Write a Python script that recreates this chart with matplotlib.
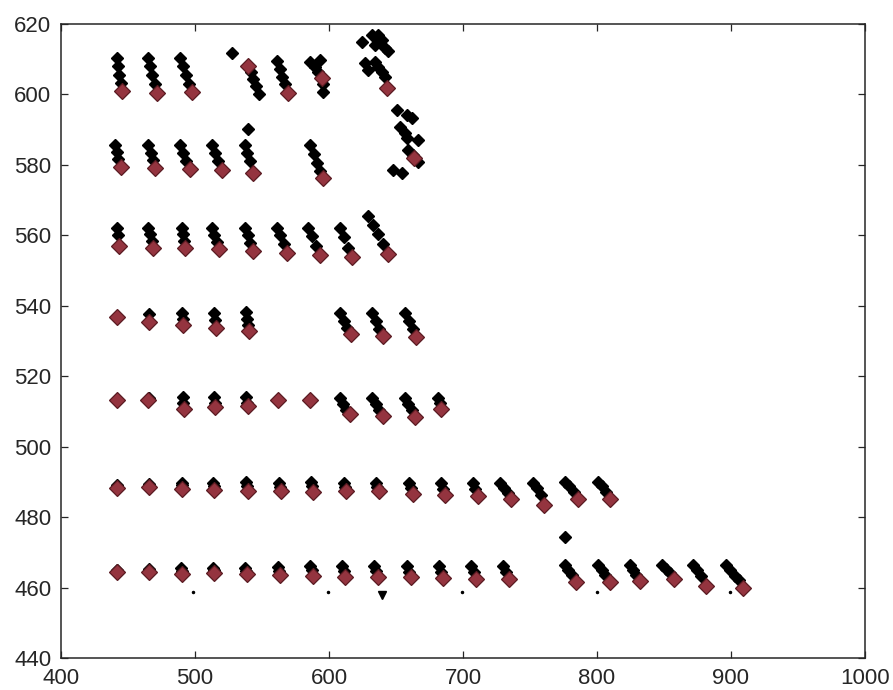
import numpy as np
import matplotlib
matplotlib.use("Agg")
from matplotlib import pyplot as plt

plt.rcParams['font.family'] = ['Liberation Sans', 'DejaVu Sans']

# tracked positions per grid row (black = intermediate, red = final)
row_464_black = [(442, 465.0), (466, 465.3), (489.5, 465.5), (490, 464.8), (513.5, 465.6), (514, 465.0),
                 (537.5, 465.6), (538, 464.8), (562, 465.8), (562.8, 464.8), (586, 466.0), (587, 465.0),
                 (610, 466.0), (611, 464.8), (633.5, 466.0), (635, 464.8), (658, 466.0), (659.5, 464.5),
                 (682, 466.0), (683.5, 464.5), (706, 466.0), (708, 464.5), (730, 466.2), (732, 464.5),
                 (776, 466.4), (778.5, 465.0), (781, 463.5), (801, 466.4), (803.5, 465.0), (806, 463.5),
                 (824.5, 466.4), (827, 465.0), (829.5, 463.5), (848.5, 466.4), (851.5, 465.2), (854.5, 464.0),
                 (872, 466.4), (875, 465.0), (878, 463.2), (896.5, 466.4), (899.5, 465.0), (903, 463.3),
                 (906, 462.0), (776, 474.4)]
row_464_red = [(442, 464.3), (466, 464.4), (490, 463.8), (514, 464.0), (538.5, 463.8), (563.5, 463.5),
               (588, 463.2), (612, 463.0), (636.5, 463.0), (661, 463.0), (685, 462.8), (710, 462.5),
               (734, 462.5), (784.5, 461.5), (809.5, 461.5), (832, 461.8), (857.5, 462.5), (881.5, 460.5),
               (909, 460.0)]

row_488_black = [(442, 489.2), (466, 489.3), (490, 489.8), (490.3, 489.0), (513.8, 489.8), (514.2, 488.8),
                 (538, 490.0), (538.8, 488.8), (562.5, 489.6), (563.5, 488.5), (586.5, 490.0), (587.2, 488.8),
                 (611, 489.6), (612, 488.5), (634.8, 489.6), (636, 488.5), (659.5, 489.8), (661, 488.2),
                 (683.5, 489.8), (685, 488.0), (707.5, 489.8), (709.2, 488.0), (727.6, 489.6), (730.5, 488.3),
                 (733.5, 486.8), (752.5, 489.8), (755.2, 488.3), (758, 486.3), (776, 490.0), (779, 488.8),
                 (782.5, 487.0), (801, 490.0), (804, 488.8), (807, 487.0)]
row_488_red = [(442, 488.2), (466, 488.5), (490.5, 488.0), (514.5, 487.8), (539.5, 487.5), (564.5, 487.5),
               (588, 487.0), (613, 487.3), (637, 487.3), (662.5, 486.5), (686.8, 486.3), (711, 486.0),
               (736, 485.0), (760.8, 483.5), (785.8, 485.0), (809.5, 485.0)]

row_512_black = [(465.5, 513.8), (491, 514.2), (491.3, 512.5), (514.2, 514.2), (514.6, 512.5),
                 (538.3, 514.2), (539, 512.5), (608.2, 513.9), (610.8, 512.0), (613, 510.5),
                 (632, 513.9), (634.8, 512.0), (637.5, 510.3), (656.7, 513.9), (659.2, 512.0),
                 (661.8, 510.3), (681.6, 513.7), (682.5, 512.3)]
row_512_red = [(441.6, 513.3), (465.2, 513.3), (491.5, 510.8), (515, 511.3), (539.5, 511.5), (562.2, 513.3),
               (585.8, 513.3), (615.5, 509.3), (640.3, 508.8), (664, 508.3), (683.3, 510.8)]

row_536_black = [(465.8, 537.6), (490.5, 537.9), (491, 536.3), (514.2, 537.9), (514.8, 536.0),
                 (538, 538.3), (538.8, 536.2), (539.8, 534.5), (608.2, 537.9), (611, 535.8), (613.8, 533.8),
                 (631.9, 537.9), (634.8, 535.8), (637.6, 533.5), (656.7, 537.9), (659.6, 535.6),
                 (662.5, 533.3)]
row_536_red = [(441.6, 536.9), (466, 535.5), (491.3, 534.5), (515.5, 533.8), (540.5, 532.8), (616.5, 532.0),
               (640.3, 531.5), (665.2, 531.2)]

row_558_black = [(441.6, 562.0), (442.5, 560.0), (465.2, 562.0), (466.5, 560.5), (467.8, 558.5),
                 (490.1, 562.0), (490.8, 560.5), (491.5, 558.5), (512.5, 562.2), (514.3, 560.2),
                 (516.2, 558.2), (537.3, 562.2), (539.3, 560.0), (541.3, 557.8), (561, 562.2),
                 (563.5, 560.0), (566.5, 557.5), (584.6, 562.0), (587.2, 559.8), (590.3, 557.0),
                 (608.2, 562.0), (611, 559.5), (614, 556.5), (629.3, 565.5), (633, 563.0), (636.5, 560.5),
                 (640, 557.5)]
row_558_red = [(443.3, 557.0), (469, 556.5), (492.3, 556.5), (518, 556.0), (543.2, 555.5), (569, 555.0),
               (593.3, 554.3), (616.9, 553.8), (644, 554.8)]

row_581_black = [(440.3, 585.7), (441.5, 583.8), (442.8, 581.8), (465.2, 585.7), (466.8, 583.5),
                 (468.3, 581.3), (488.8, 585.7), (491, 583.5), (493.5, 581.0), (512.5, 585.7),
                 (514.8, 583.3), (517.3, 581.0), (539.8, 590.1), (537.3, 585.7), (539, 583.5), (541, 581.0),
                 (585.8, 585.7), (588.5, 583.0), (591.3, 580.5), (593.5, 578.2),
                 (650.5, 595.6), (658, 594.2), (661.7, 593.2), (653, 590.9), (656.7, 589.0), (658, 587.6),
                 (666.6, 587.1), (659.2, 584.2), (662.9, 582.8), (666.6, 580.9), (648, 578.6), (654.3, 577.6)]
row_581_red = [(444.5, 579.5), (470, 579.2), (496, 578.8), (519.8, 578.5), (543.3, 577.8), (595.5, 576.2),
               (663.5, 582.0)]

row_605_black = [(441.6, 610.3), (442.5, 608.0), (443.5, 605.5), (444.5, 603.3), (465.2, 610.3),
                 (466.5, 608.0), (468, 605.5), (469.8, 603.0), (488.8, 610.3), (490.8, 608.0), (493, 605.5),
                 (495.3, 603.0), (527.4, 611.7), (541.5, 606.5), (543.5, 604.5), (545.5, 602.5),
                 (547.8, 600.0), (561.2, 609.5), (563.2, 607.3), (565.3, 605.0), (567.3, 603.0),
                 (585.8, 609.3), (593.3, 609.8), (589.6, 607.9), (592, 606.5), (595.5, 603.0), (595.7, 600.8),
                 (624.4, 615.0), (631.9, 616.9), (636.8, 616.9), (639.3, 615.5), (634.3, 614.0),
                 (641.8, 613.1), (644.3, 612.2), (626.9, 608.8), (629.3, 607.0), (634.3, 609.3),
                 (636.8, 607.9), (639.3, 606.5), (641.8, 605.0)]
row_605_red = [(445.3, 601.0), (471.4, 600.5), (497.5, 600.8), (539.8, 608.2), (569.3, 600.5),
               (594.5, 604.6), (643.5, 601.7)]

# stray detections below the bottom row
stray_dots = [(498.7, 458.7), (599.5, 458.8), (699, 458.8), (800, 458.8), (899, 458.8)]
stray_tri = [(639.5, 458.0)]

black = np.array(row_464_black + row_488_black + row_512_black + row_536_black
                 + row_558_black + row_581_black + row_605_black)
red = np.array(row_464_red + row_488_red + row_512_red + row_536_red
               + row_558_red + row_581_red + row_605_red)
dots = np.array(stray_dots)
tri = np.array(stray_tri)

fig = plt.figure(figsize=(8.93, 6.90), dpi=100)
ax = fig.add_axes([0.0683, 0.0464, 0.9003, 0.9188])

ax.plot(black[:, 0], black[:, 1], 'D', color='black', ms=6.3, mec='black', mew=1.0, ls='none')
ax.plot(red[:, 0], red[:, 1], 'D', color='#94343f', ms=7.8, mec='#5a1b22', mew=0.9, ls='none')
ax.plot(dots[:, 0], dots[:, 1], '.', color='black', ms=3, ls='none')
ax.plot(tri[:, 0], tri[:, 1], 'v', color='black', ms=6, ls='none')

ax.set_xlim(400, 1000)
ax.set_ylim(440, 620)
ax.set_xticks(np.arange(400, 1001, 100))
ax.set_yticks(np.arange(440, 621, 20))
ax.tick_params(direction='in', top=True, right=True, length=5, width=0.9, color='#262626',
               labelsize=16, labelcolor='#262626', pad=7)
for s in ax.spines.values():
    s.set_linewidth(1.1)
    s.set_color('#262626')

plt.savefig('out.png', dpi=100)
